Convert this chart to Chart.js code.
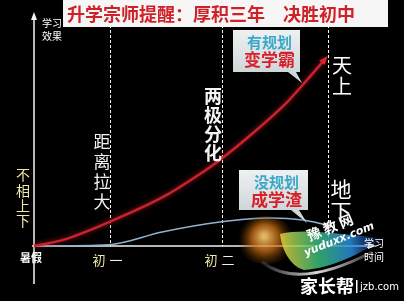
<!DOCTYPE html>
<html>
<head>
<meta charset="utf-8">
<script src="https://cdn.jsdelivr.net/npm/chart.js@4.4.1/dist/chart.umd.min.js"></script>
<style>
  html, body { margin: 0; padding: 0; background: #000; }
  #box { width: 404px; height: 301px; }
</style>
</head>
<body>
<div id="box"><canvas id="c" width="404" height="301"></canvas></div>
<script>
// timeline position (0 = summer before grade 7) and learning effect
const planX = [0, 8.6, 22.2, 38.2, 48.2, 55, 64.8, 74.9, 80.8, 86.1];
const planY = [0, 2.7, 10.6, 21.7, 31.0, 38.1, 50.0, 63.7, 73.5, 82.7];
const noPlanX = [0, 22.2, 37.9, 55, 69.8, 79.6, 86.7];
const noPlanY = [0, 0.6, 6.2, 10.6, 12.4, 11.5, 9.3];
const stageX = [22.5, 55.6, 87];
const stageLabels = ['初', '初', ''];
const stageNums = ['一', '二', ''];

const CJK = '"Noto Sans CJK SC", "Noto Sans", sans-serif';

function pts(xs, ys) { return xs.map((x, i) => ({ x: x, y: ys[i] })); }

function vText(ctx, str, cx, y0, step, font, color) {
    ctx.font = font;
    ctx.fillStyle = color;
    ctx.textAlign = 'center';
    ctx.textBaseline = 'middle';
    for (let i = 0; i < str.length; i++) ctx.fillText(str[i], cx, y0 + i * step);
}

function callout(ctx, x, y, w, h, tail, l1, l2) {
    ctx.save();
    ctx.shadowColor = 'rgba(0,0,0,0.5)';
    ctx.shadowBlur = 3;
    var g = ctx.createLinearGradient(0, y, 0, y + h);
    g.addColorStop(0, '#eef1f2');
    g.addColorStop(1, '#cfd6d9');
    ctx.fillStyle = g;
    ctx.beginPath();
    ctx.moveTo(x, y);
    ctx.lineTo(x + w, y);
    ctx.lineTo(x + w, y + h);
    ctx.lineTo(tail[0] + 8, y + h);
    ctx.lineTo(tail[2], tail[3]);
    ctx.lineTo(tail[0], y + h);
    ctx.lineTo(x, y + h);
    ctx.closePath();
    ctx.fill();
    ctx.restore();
    ctx.textAlign = 'center';
    ctx.textBaseline = 'middle';
    ctx.font = 'bold 15px ' + CJK;
    ctx.fillStyle = '#3aa9c9';
    ctx.fillText(l1, x + w / 2 + 3, y + 12);
    ctx.font = 'bold 17px ' + CJK;
    ctx.fillStyle = '#d8202a';
    ctx.fillText(l2, x + w / 2 + 3, y + 30);
}

const decor = {
    id: 'decor',
    beforeDatasetsDraw(chart) {
        const ctx = chart.ctx;
        const xs = chart.scales.x, ys = chart.scales.y;
        const x0 = xs.getPixelForValue(0), y0 = ys.getPixelForValue(0);
        ctx.save();
        // stage dashed lines
        ctx.strokeStyle = '#f2f2f2';
        ctx.lineWidth = 1;
        ctx.setLineDash([3, 2]);
        stageX.forEach(v => {
            const px = Math.round(xs.getPixelForValue(v)) + 0.5;
            ctx.beginPath();
            ctx.moveTo(px, 20);
            ctx.lineTo(px, y0);
            ctx.stroke();
        });
        ctx.setLineDash([]);
        // axes
        ctx.strokeStyle = '#f4f4f4';
        ctx.lineWidth = 1.5;
        ctx.beginPath();
        ctx.moveTo(x0, 284);
        ctx.lineTo(x0, 16);
        ctx.moveTo(x0 - 2, y0);
        ctx.lineTo(xs.right, y0);
        ctx.stroke();
        ctx.fillStyle = '#f4f4f4';
        ctx.beginPath();
        ctx.moveTo(x0, 12);
        ctx.lineTo(x0 - 3, 20);
        ctx.lineTo(x0 + 3, 20);
        ctx.fill();
        ctx.beginPath();
        ctx.moveTo(xs.right + 4, y0);
        ctx.lineTo(xs.right - 4, y0 - 3);
        ctx.lineTo(xs.right - 4, y0 + 3);
        ctx.fill();
        ctx.restore();
    },
    afterDatasetsDraw(chart) {
        const ctx = chart.ctx;
        const xs = chart.scales.x, ys = chart.scales.y;
        const y0 = ys.getPixelForValue(0);
        ctx.save();
        // red arrow head at end of plan curve
        const meta = chart.getDatasetMeta(0).data;
        const a = meta[meta.length - 2], b = meta[meta.length - 1];
        const ang = Math.atan2(b.y - a.y, b.x - a.x);
        ctx.fillStyle = '#e0222c';
        ctx.beginPath();
        ctx.moveTo(b.x + 4 * Math.cos(ang), b.y + 4 * Math.sin(ang));
        ctx.lineTo(b.x + 6 * Math.cos(ang + 2.5), b.y + 6 * Math.sin(ang + 2.5));
        ctx.lineTo(b.x + 6 * Math.cos(ang - 2.5), b.y + 6 * Math.sin(ang - 2.5));
        ctx.fill();

        // watermark blob
        let g = ctx.createRadialGradient(264, 236, 2, 266, 240, 28);
        g.addColorStop(0, 'rgba(250,200,110,0.9)');
        g.addColorStop(0.45, 'rgba(200,110,20,0.75)');
        g.addColorStop(1, 'rgba(100,50,0,0)');
        ctx.fillStyle = g;
        ctx.beginPath();
        ctx.ellipse(266, 240, 30, 24, 0, 0, Math.PI * 2);
        ctx.fill();
        g = ctx.createLinearGradient(282, 250, 380, 240);
        g.addColorStop(0, 'rgba(220,210,60,0.85)');
        g.addColorStop(0.35, 'rgba(60,190,120,0.85)');
        g.addColorStop(0.7, 'rgba(40,140,220,0.85)');
        g.addColorStop(1, 'rgba(30,60,180,0.15)');
        ctx.fillStyle = g;
        ctx.beginPath();
        ctx.moveTo(280, 234);
        ctx.bezierCurveTo(305, 228, 335, 234, 385, 238);
        ctx.bezierCurveTo(360, 254, 332, 268, 304, 270);
        ctx.bezierCurveTo(290, 266, 282, 250, 280, 234);
        ctx.fill();
        g = ctx.createLinearGradient(262, 270, 372, 270);
        g.addColorStop(0, 'rgba(255,255,255,0.1)');
        g.addColorStop(0.5, 'rgba(255,255,255,0.85)');
        g.addColorStop(1, 'rgba(255,255,255,0.2)');
        ctx.strokeStyle = g;
        ctx.lineWidth = 3;
        ctx.beginPath();
        ctx.moveTo(262, 262);
        ctx.bezierCurveTo(290, 284, 330, 274, 372, 252);
        ctx.stroke();
        ctx.save();
        ctx.translate(330, 238);
        ctx.rotate(-0.38);
        ctx.fillStyle = '#ffffff';
        ctx.textAlign = 'center';
        ctx.textBaseline = 'middle';
        ctx.font = 'bold 14px ' + CJK;
        ctx.fillText('豫 教 网', 4, -10);
        ctx.font = 'italic bold 11px "DejaVu Sans", sans-serif';
        ctx.fillText('yuduxx.com', 8, 5);
        ctx.restore();
        ctx.textAlign = 'left';
        ctx.textBaseline = 'middle';
        ctx.fillStyle = '#ffffff';
        ctx.font = 'bold 18px ' + CJK;
        ctx.fillText('家长帮', 300, 286);
        ctx.fillRect(356, 280, 1.5, 13);
        ctx.font = '10px "DejaVu Sans", sans-serif';
        ctx.fillText('jzb.com', 360, 287);

        // title bar
        ctx.fillStyle = '#f6f6f6';
        ctx.fillRect(63, 0, 325, 27);
        ctx.fillStyle = '#d02028';
        ctx.font = 'bold 18px ' + CJK;
        ctx.textAlign = 'left';
        ctx.textBaseline = 'middle';
        ctx.fillText('升学宗师提醒：厚积三年　决胜初中', 67, 14);

        // axis labels
        ctx.fillStyle = '#ffffff';
        ctx.font = '10px ' + CJK;
        ctx.fillText('学习', 42, 23);
        ctx.fillText('效果', 42, 36);
        ctx.fillText('学习', 364, 243);
        ctx.fillText('时间', 364, 257);
        ctx.font = 'bold 11px ' + CJK;
        ctx.textAlign = 'center';
        ctx.fillText('暑假', 31, 258);
        stageX.forEach((v, i) => {
            if (!stageLabels[i]) return;
            const px = xs.getPixelForValue(v) - 3;
            ctx.font = '13px ' + CJK;
            ctx.fillStyle = '#ece9a4';
            ctx.fillText(stageLabels[i], px - 8, y0 + 14);
            ctx.fillStyle = '#f0f0f0';
            ctx.fillText(stageNums[i], px + 9, y0 + 14);
        });

        // annotations
        vText(ctx, '不相上下', 23, 175, 15.3, '14px ' + CJK, '#ece9a4');
        vText(ctx, '距离拉大', 102, 142, 20, '17px ' + CJK, '#f4f4f4');
        vText(ctx, '两极分化', 213, 96, 19, 'bold 18px ' + CJK, '#f4f4f4');
        vText(ctx, '天上', 342, 65, 21, '20px ' + CJK, '#ffffff');
        vText(ctx, '地下', 341, 189, 22, '21px ' + CJK, '#ffffff');

        callout(ctx, 233, 30, 67, 42, [288, 0, 302, 83], '有规划', '变学霸');
        callout(ctx, 239, 170, 69, 40, [291, 0, 307, 223], '没规划', '成学渣');
        ctx.restore();
    }
};

new Chart(document.getElementById('c').getContext('2d'), {
    type: 'line',
    data: {
        datasets: [
            {
                label: '有规划',
                data: pts(planX, planY),
                borderColor: '#c8222c',
                borderWidth: 2.5,
                pointRadius: 0,
                cubicInterpolationMode: 'monotone',
                clip: false
            },
            {
                label: '没规划',
                data: pts(noPlanX, noPlanY),
                borderColor: '#8db4d2',
                borderWidth: 1.5,
                pointRadius: 0,
                cubicInterpolationMode: 'monotone',
                clip: false
            }
        ]
    },
    options: {
        responsive: false,
        animation: false,
        events: [],
        layout: { padding: { left: 34, right: 32, top: 20, bottom: 55 } },
        plugins: { legend: { display: false }, tooltip: { enabled: false } },
        scales: {
            x: { type: 'linear', min: 0, max: 100, display: false },
            y: { min: 0, max: 100, display: false }
        }
    },
    plugins: [decor, {
        id: 'glow',
        beforeDatasetDraw(chart, args) {
            if (args.index === 0) {
                chart.ctx.save();
                chart.ctx.shadowColor = 'rgba(200,30,40,0.8)';
                chart.ctx.shadowBlur = 5;
            }
        },
        afterDatasetDraw(chart, args) {
            if (args.index === 0) chart.ctx.restore();
        }
    }]
});
</script>
</body>
</html>
